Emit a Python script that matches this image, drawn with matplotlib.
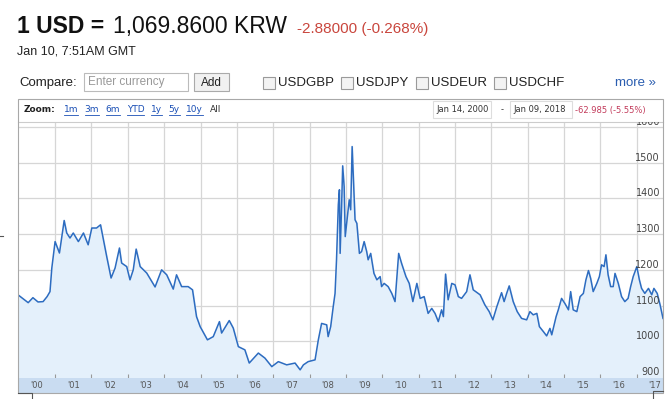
import matplotlib
matplotlib.use('Agg')
import matplotlib.pyplot as plt
from matplotlib.patches import Rectangle
from matplotlib.lines import Line2D

W, H = 671, 399

# USD/KRW (decimal years)
years = [1999.98, 2000.17, 2000.26, 2000.39, 2000.53, 2000.67, 2000.78, 2000.86, 2000.91,
         2001.00, 2001.12, 2001.25, 2001.32, 2001.41, 2001.50, 2001.64, 2001.78, 2001.91,
         2002.01, 2002.14, 2002.25, 2002.42, 2002.54, 2002.65, 2002.77, 2002.83, 2002.97,
         2003.06, 2003.15, 2003.23, 2003.34, 2003.52, 2003.75, 2003.93,
         2004.07, 2004.25, 2004.34, 2004.48, 2004.66, 2004.78, 2004.89, 2004.99,
         2005.19, 2005.35, 2005.52, 2005.58, 2005.79, 2005.90,
         2006.04, 2006.22, 2006.34, 2006.59, 2006.77, 2006.96,
         2007.14, 2007.37, 2007.60,
         2007.74, 2007.83, 2007.96, 2008.15, 2008.24, 2008.33, 2008.47, 2008.51, 2008.58, 2008.65,
         2008.70, 2008.74, 2008.79, 2008.82, 2008.84, 2008.88, 2008.91, 2008.95, 2008.98, 2009.04,
         2009.09, 2009.13, 2009.17, 2009.25, 2009.30, 2009.37, 2009.43, 2009.50, 2009.57, 2009.61,
         2009.68, 2009.77, 2009.85, 2009.94, 2009.98, 2010.05, 2010.16, 2010.26, 2010.35, 2010.45,
         2010.53, 2010.65, 2010.74, 2010.84, 2010.95, 2011.04, 2011.15, 2011.26, 2011.36, 2011.45,
         2011.54, 2011.63, 2011.68, 2011.74, 2011.81, 2011.91, 2012.00, 2012.09, 2012.18, 2012.32,
         2012.41, 2012.50, 2012.69, 2012.82, 2012.94, 2013.04, 2013.15, 2013.28, 2013.35, 2013.42,
         2013.49, 2013.60, 2013.71, 2013.83, 2013.97, 2014.06, 2014.15, 2014.25, 2014.32, 2014.43,
         2014.52, 2014.61, 2014.66, 2014.78, 2014.84, 2014.93, 2015.02, 2015.12, 2015.18, 2015.25,
         2015.35, 2015.44, 2015.53, 2015.60, 2015.67, 2015.73, 2015.80, 2015.90, 2015.97, 2016.03,
         2016.10, 2016.15, 2016.21, 2016.28, 2016.35, 2016.40, 2016.49, 2016.58, 2016.67, 2016.76,
         2016.83, 2016.90, 2017.00, 2017.07, 2017.13, 2017.22, 2017.32, 2017.41, 2017.47, 2017.56,
         2017.64, 2017.72]
rates = [1130, 1115, 1108, 1122, 1110, 1111, 1125, 1139, 1205,
         1279, 1247, 1338, 1303, 1289, 1303, 1279, 1303, 1270,
         1317, 1317, 1326, 1237, 1177, 1205, 1261, 1219, 1209,
         1172, 1200, 1258, 1209, 1191, 1152, 1200,
         1186, 1146, 1186, 1153, 1153, 1144, 1069, 1041,
         1004, 1013, 1055, 1023, 1058, 1037,
         985, 976, 939, 967, 953, 929,
         943, 934, 939,
         920, 934, 943, 948, 1004, 1050, 1046, 1013, 1041, 1097,
         1134, 1227, 1382, 1424, 1246, 1377, 1491, 1433, 1293, 1349,
         1396, 1368, 1545, 1340, 1330, 1246, 1251, 1279, 1251, 1228,
         1246, 1190, 1172, 1181, 1153, 1162, 1153, 1134, 1111, 1246,
         1218, 1181, 1162, 1111, 1162, 1120, 1125, 1078, 1092, 1078,
         1055, 1088, 1069, 1188, 1116, 1162, 1158, 1125, 1120, 1139,
         1186, 1144, 1130, 1102, 1083, 1060, 1097, 1136, 1111, 1134,
         1155, 1111, 1083, 1064, 1060, 1083, 1074, 1078, 1041, 1027,
         1015, 1036, 1018, 1069, 1088, 1120, 1106, 1088, 1139, 1088,
         1083, 1125, 1134, 1172, 1198, 1176, 1139, 1162, 1181, 1214,
         1209, 1242, 1186, 1153, 1153, 1190, 1162, 1125, 1111, 1120,
         1153, 1181, 1209, 1172, 1148, 1134, 1148, 1130, 1148, 1134,
         1102, 1064]

y_ticks = [900, 1000, 1100, 1200, 1300, 1400, 1500, 1600]
year_starts = list(range(2001, 2018))
year_labels = ["'%02d" % (y % 100) for y in range(2000, 2018)]
zoom_links = ['1m', '3m', '6m', 'YTD', '1y', '5y', '10y']
pairs = ['USDGBP', 'USDJPY', 'USDEUR', 'USDCHF']

plt.rcParams['font.family'] = ['Liberation Sans', 'DejaVu Sans']

fig = plt.figure(figsize=(W / 100, H / 100), dpi=100)
fig.patch.set_facecolor('white')


def fx(x):
    return x / W


def fy(y):
    return 1 - y / H


def rect(x0, y0, x1, y1, **kw):
    fig.add_artist(Rectangle((fx(x0), fy(y1)), fx(x1) - fx(x0), fy(y0) - fy(y1),
                             transform=fig.transFigure, **kw))


def line(xs, ys, **kw):
    fig.add_artist(Line2D([fx(x) for x in xs], [fy(y) for y in ys],
                          transform=fig.transFigure, **kw))


def text(x, y, s, **kw):
    return fig.text(fx(x), fy(y), s, **kw)


# header
text(17, 33, '1 USD =', fontsize=16.5, fontweight='bold', color='#111', va='baseline')
text(113, 33, '1,069.8600 KRW', fontsize=16.5, color='#111', va='baseline')
text(297, 33, '-2.88000 (-0.268%)', fontsize=11, color='#c9463d', va='baseline')
text(17, 55, 'Jan 10, 7:51AM GMT', fontsize=9, color='#222', va='baseline')

# compare row
text(19, 83, 'Compare:', fontsize=9.5, color='#222', va='center')
rect(84, 73, 188, 91, facecolor='white', edgecolor='#bbbbbb', lw=0.8)
text(88, 82.5, 'Enter currency', fontsize=8.5, color='#999999', va='center')
rect(194, 73, 229, 91, facecolor='#f1f1f1', edgecolor='#aaaaaa', lw=0.8)
text(211.5, 82.5, 'Add', fontsize=8.5, color='#222', va='center', ha='center')
for cx, label in zip([263, 341, 416, 494], pairs):
    rect(cx, 77, cx + 12, 89, facecolor='#f3f3f3', edgecolor='#9a9a9a', lw=0.8)
    text(cx + 15, 83, label, fontsize=9.5, color='#222', va='center')
text(615, 83, 'more \u00bb', fontsize=9.5, color='#2a5db0', va='center')

# chart frame
rect(18, 99, 663, 393, facecolor='none', edgecolor='#a8a8a8', lw=0.8)
line([18, 32, 32], [393, 393, 399], color='#555', lw=0.8)
line([663, 653, 653], [391, 391, 399], color='#555', lw=0.8)
line([0, 3], [236, 236], color='#555', lw=0.8)

# zoom bar
renderer = fig.canvas.get_renderer()
t = text(24, 110, 'Zoom:', fontsize=6.5, fontweight='bold', family='DejaVu Sans',
         color='#222', va='center')
x = 24 + t.get_window_extent(renderer).width + 8
for lab in zoom_links:
    t = text(x, 110, lab, fontsize=6.5, family='DejaVu Sans', color='#1a4fb5', va='center')
    w = t.get_window_extent(renderer).width
    line([x, x + w], [114.5, 114.5], color='#1a4fb5', lw=0.6)
    x += w + 6.5
text(x, 110, 'All', fontsize=6.5, family='DejaVu Sans', color='#333', va='center')

rect(433, 101, 491, 118, facecolor='white', edgecolor='#dddddd', lw=0.8)
text(436, 110, 'Jan 14, 2000', fontsize=6, family='DejaVu Sans', color='#333', va='center')
text(501, 110, '-', fontsize=6, family='DejaVu Sans', color='#333', va='center')
rect(510, 101, 572, 118, facecolor='white', edgecolor='#dddddd', lw=0.8)
text(513, 110, 'Jan 09, 2018', fontsize=6, family='DejaVu Sans', color='#333', va='center')
text(575, 110, '-62.985 (-5.55%)', fontsize=6, family='DejaVu Sans', color='#c23a5a',
     va='center')

# main plot
x0, x1 = 1999.98, 2017.72
y0, y1 = 897.2, 1613.7
ax = fig.add_axes([fx(18), fy(378), fx(663) - fx(18), fy(122) - fy(378)])
ax.set_xlim(x0, x1)
ax.set_ylim(y0, y1)
for v in y_ticks:
    ax.axhline(v, color='#d6d6d6', lw=0.9, zorder=0)
for yr in year_starts:
    ax.axvline(yr, color='#d6d6d6', lw=0.9, zorder=0)
ax.fill_between(years, rates, y0, color='#e4f0fb', zorder=1)
ax.plot(years, rates, color='#2d6cc0', lw=1.1, zorder=2)
for v in y_ticks:
    ax.text(x1 - 3 / 36.36, v + 2 / 0.3573, str(v), ha='right', va='baseline',
            fontsize=7, family='DejaVu Sans', color='#444', clip_on=True, zorder=3)
ax.set_xticks(year_starts)
ax.set_xticklabels([])
ax.set_yticks([])
ax.tick_params(axis='x', direction='in', length=3, color='#999999', width=0.8)
for side in ['left', 'right', 'bottom']:
    ax.spines[side].set_visible(False)
ax.spines['top'].set_color('#cccccc')
ax.spines['top'].set_linewidth(0.8)

# year band
band = fig.add_axes([fx(18), fy(393), fx(663) - fx(18), fy(378) - fy(393)])
band.set_facecolor('#c9dcf1')
band.set_xlim(x0, x1)
band.set_ylim(0, 1)
band.set_xticks([])
band.set_yticks([])
for s in band.spines.values():
    s.set_visible(False)
for i, lab in enumerate(year_labels):
    band.text(2000.5 + i, 0.5, lab, ha='center', va='center', fontsize=6,
              family='DejaVu Sans', color='#555', clip_on=True)

fig.savefig('out.png', dpi=100)
